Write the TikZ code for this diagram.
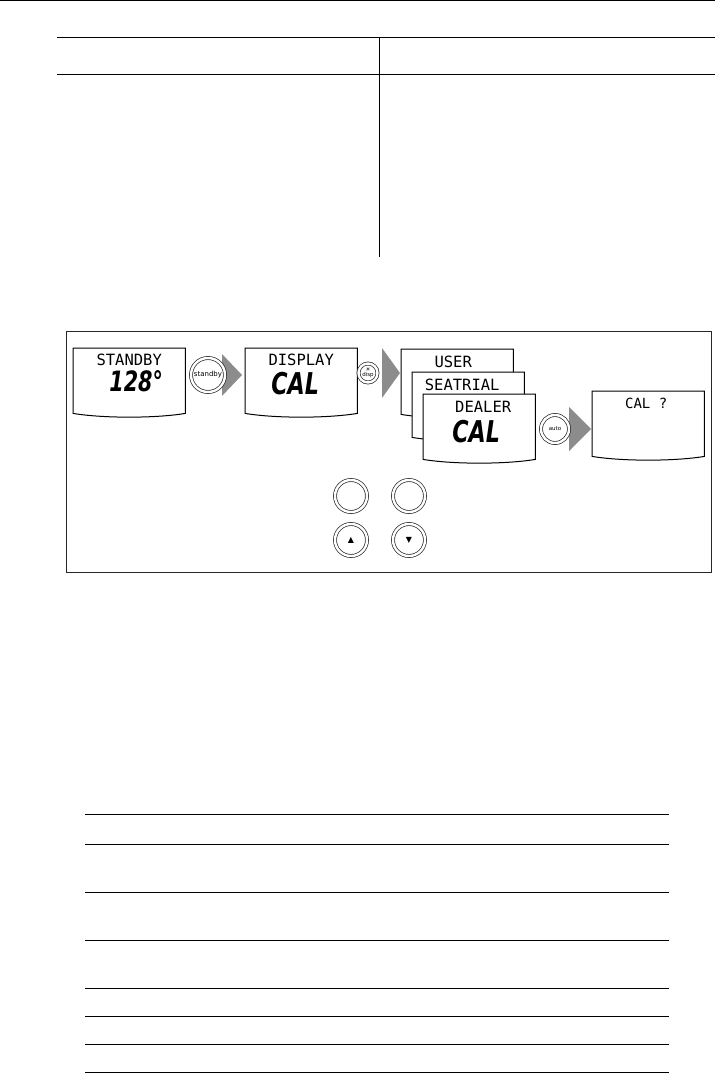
\documentclass[tikz,border=0pt]{standalone}
\usepackage{fontspec}
\usetikzlibrary{calc,backgrounds}
\newfontfamily\lcdfont{DejaVu Sans Mono}
\newfontfamily\segfont[FakeStretch=0.74]{DejaVu Sans}
\newfontfamily\keyfont{DejaVu Sans}

% display outline with the bowed lower edge
\newcommand\lcdoutline[1]{%
  \filldraw[lcdline] (#1.north west) -- (#1.north east) -- (#1.south east)
    .. controls ($(#1.south east)+(-30,5)$) and ($(#1.south west)+(30,5)$) .. (#1.south west) -- cycle;}

\begin{document}
\begin{tikzpicture}[x=1pt, y=-1pt]
        \tikzset{
            rule/.style={line width=1pt, draw=black},
            panel/.style={draw=black!85, line width=0.9pt},
            lcd/.style={
                rectangle,
                minimum width=112pt,
                minimum height=65pt,
                inner sep=0pt,
                anchor=north west
            },
            lcdline/.style={draw=black, fill=white, line width=1pt},
            lcdlabel/.style={font=\lcdfont\fontsize{15.5}{15.5}\selectfont, anchor=base, inner sep=0pt},
            lcdvalue/.style={font=\segfont\bfseries\itshape\fontsize{30}{30}\selectfont, anchor=base, inner sep=0pt},
            key/.style={
                circle,
                draw=black!85,
                fill=white,
                double=white,
                double distance=2.4pt,
                line width=0.7pt,
                inner sep=0pt,
                align=center
            },
            chevron/.style={fill=black!45}
        }
        \useasboundingbox (0,0) rectangle (715,1073);

        % page rules
        \draw[rule] (0,0.5) -- (715,0.5);
        \draw[rule] (57,38) -- (715,38);
        \draw[rule] (57,74) -- (715,74);
        \draw[rule] (379,38) -- (379,257);

        \draw[rule] (85,814) -- (669,814);
        \draw[rule] (85,844) -- (669,844);
        \draw[rule] (85,892) -- (669,892);
        \draw[rule] (85,940) -- (669,940);
        \draw[rule] (85,988) -- (669,988);
        \draw[rule] (85,1016) -- (669,1016);
        \draw[rule] (85,1044) -- (669,1044);
        \draw[rule] (85,1072) -- (669,1072);

        \draw[panel] (66,331) rectangle (711,572);

        \node[lcd] (standbylcd) at (73,348) {};
        \lcdoutline{standbylcd}
        \node[lcdlabel] (standbytxt) at ($(standbylcd.north)+(0,17)$) {STANDBY};
        \node[lcdvalue, font=\segfont\bfseries\itshape\fontsize{28}{28}\selectfont] (standbyval) at ($(standbylcd.north)+(7,43)$) {128°};

        \node[lcd] (displaylcd) at (245,348) {};
        \lcdoutline{displaylcd}
        \node[lcdlabel] (displaytxt) at ($(displaylcd.north)+(0,17)$) {DISPLAY};
        \node[lcdvalue] (displayval) at ($(displaylcd.north)+(-6,46)$) {CAL};

        \node[lcd] (userlcd) at (401,349) {};
        \lcdoutline{userlcd}
        \node[lcdlabel] (usertxt) at ($(userlcd.north)+(-4,18)$) {USER};

        \node[lcd] (seatriallcd) at (412,372) {};
        \lcdoutline{seatriallcd}
        \node[lcdlabel] (seatrialtxt) at ($(seatriallcd.north)+(-6,18)$) {SEATRIAL};

        \node[lcd] (dealerlcd) at (423,394) {};
        \lcdoutline{dealerlcd}
        \node[lcdlabel] (dealertxt) at ($(dealerlcd.north)+(4,18)$) {DEALER};
        \node[lcdvalue] (dealerval) at ($(dealerlcd.north)+(-3,48)$) {CAL};

        \node[lcd] (callcd) at (592,391) {};
        \lcdoutline{callcd}
        \node[lcdlabel, font=\lcdfont\fontsize{14}{14}\selectfont] (caltxt) at ($(callcd.north)+(-2,17)$) {CAL ?};

        \node[key, minimum size=34pt, font=\keyfont\fontsize{7}{7}\selectfont] (standbykey) at (208,375) {standby};
        \node[key, minimum size=19pt, font=\keyfont\fontsize{5.5}{5}\selectfont] (dispkey) at (368,373) {☀\\disp};
        \node[key, minimum size=28pt, font=\keyfont\fontsize{5.5}{5.5}\selectfont] (autokey) at (555,429) {auto};

        \node[key, minimum size=32pt] (keyA) at (351,496) {};
        \node[key, minimum size=32pt] (keyB) at (409,496) {};
        \node[key, minimum size=32pt, font=\keyfont\fontsize{8}{8}\selectfont] (upkey) at (351,540) {▲};
        \node[key, minimum size=32pt, font=\keyfont\fontsize{8}{8}\selectfont] (downkey) at (409,540) {▼};

        \begin{scope}[on background layer]
            \fill[chevron] ($(standbykey)+(14,-21)$) -- ($(displaylcd.west |- standbykey)+(-3,0)$)
                -- ($(standbykey)+(14,21)$) -- cycle;
            \fill[chevron] ($(dispkey)+(14,-25)$) -- ($(userlcd.west |- dispkey)+(-1,0)$)
                -- ($(dispkey)+(14,25)$) -- cycle;
            \fill[chevron] ($(autokey)+(14,-22)$) -- ($(callcd.west |- autokey)+(-1,0)$)
                -- ($(autokey)+(14,22)$) -- cycle;
        \end{scope}
    \end{tikzpicture}
\end{document}
